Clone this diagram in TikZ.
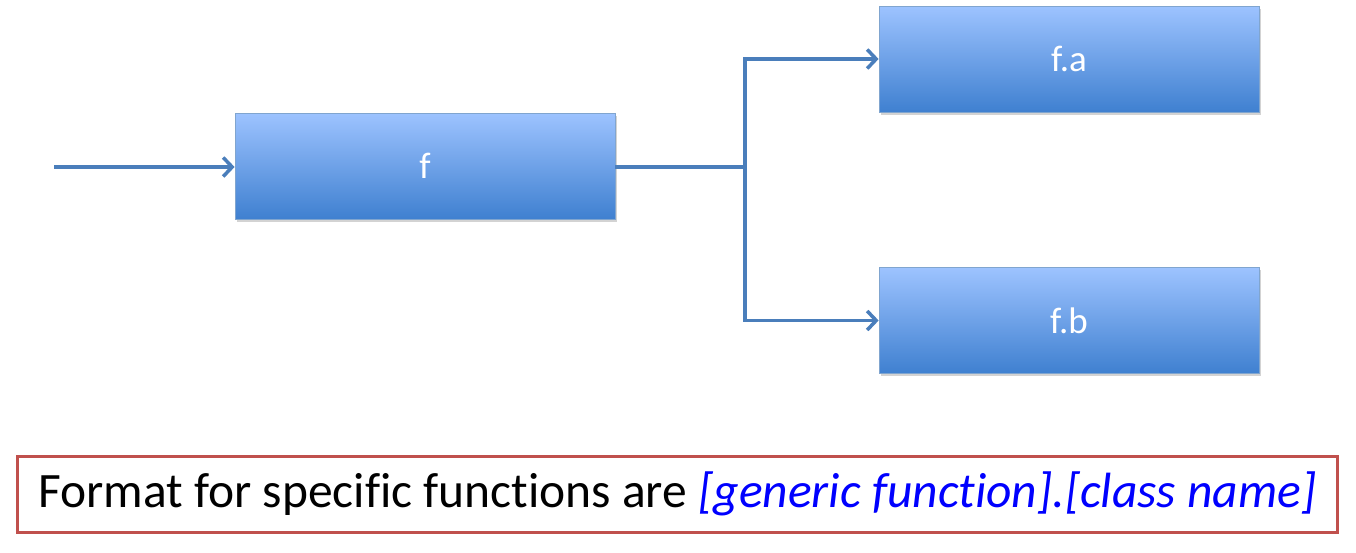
\documentclass[tikz,border=0pt]{standalone}
\usepackage{fontspec}
\setmainfont{Carlito}[Ligatures=NoCommon]
\usetikzlibrary{arrows.meta,shadows}
\definecolor{linec}{HTML}{4A7EBB}
\definecolor{topc}{HTML}{9DC3FF}
\definecolor{botc}{HTML}{3F80D0}
\definecolor{redc}{HTML}{C0504D}
\begin{document}
\begin{tikzpicture}[x=1pt,y=-1pt,
  fbox/.style={rectangle, minimum width=380pt, minimum height=106pt, top color=topc, bottom color=botc, draw=linec!70, line width=0.8pt, text=white, font=\fontsize{37}{44}\selectfont, drop shadow={shadow xshift=1.5pt, shadow yshift=-2.5pt, opacity=0.35}},
  conn/.style={draw=linec, line width=3.5pt},
  arr/.style={conn, -{Straight Barb[length=9pt,width=19pt,line width=3.5pt]}}]
\useasboundingbox (0,0) rectangle (1356,552);
\node[fbox] (f) at (425,166) {f};
\node[fbox] (fa) at (1069,59) {f.a};
\node[fbox] (fb) at (1069,320.5) {f.b};
\coordinate (in) at (54,167);
\coordinate (br) at (745,167);
\draw[arr] (in) -- (in -| f.west);
\draw[conn] (f.east |- br) -- (br);
\draw[arr] (br) |- (fa.west);
\draw[arr] (br) |- (fb.west);
\node[draw=redc, line width=2.5pt, minimum width=1320pt, minimum height=76pt, anchor=north west, inner sep=0pt, font=\fontsize{49.5}{58}\selectfont] (note) at (16,455) {Format for specific functions are \textcolor{blue}{\itshape [generic function].[class name]}};
\end{tikzpicture}
\end{document}
